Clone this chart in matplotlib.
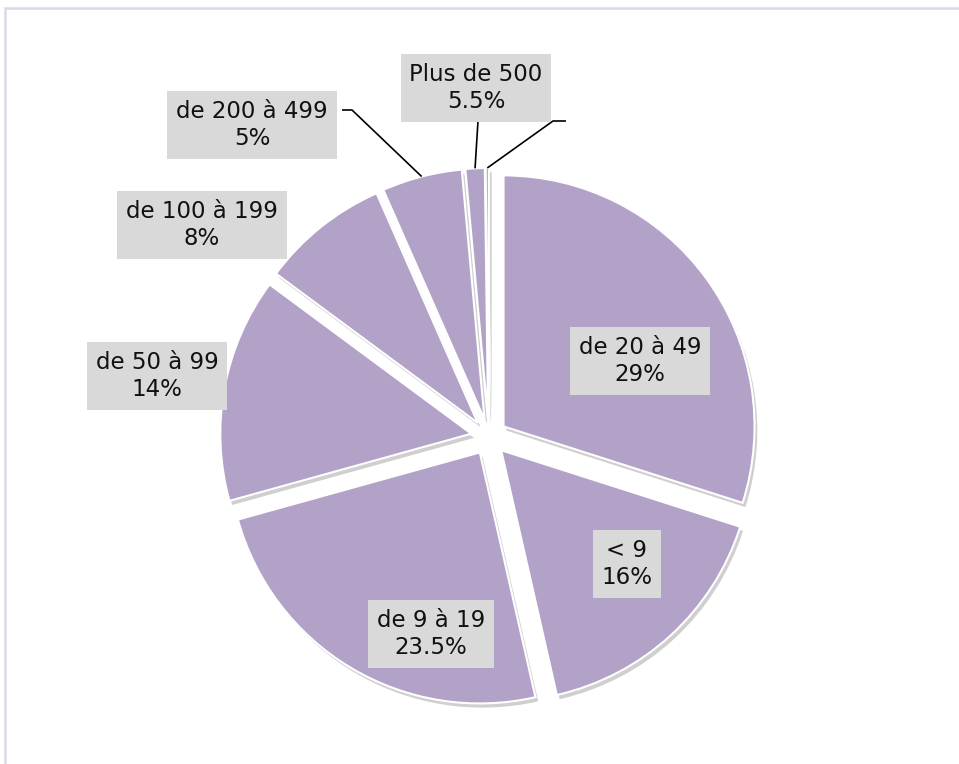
import matplotlib
matplotlib.use("Agg")
import matplotlib.pyplot as plt
import matplotlib.patheffects as pe
from matplotlib.patches import Rectangle
import numpy as np

# slices clockwise from 12 o'clock
categories = ["de 20 à 49", "< 9", "de 9 à 19", "de 50 à 99",
              "de 100 à 199", "de 200 à 499", "Plus de 500", ""]
values = [29, 16, 23.5, 14, 8, 5, 1.2, 0.2]
pct_labels = ["29%", "16%", "23.5%", "14%", "8%", "5%", "5.5%", ""]

W, H = 959, 764


def px(x, y):
    # pixel coords (y down) -> data coords (y up)
    return x, H - y


def main():
    fig = plt.figure(figsize=(W / 100, H / 100), dpi=100)
    ax = fig.add_axes([0, 0, 1, 1])

    # explode is in data units here (pixels)
    wedges, _ = ax.pie(values, startangle=90, counterclock=False,
                       radius=251, center=px(489, 437),
                       explode=[18] * len(values),
                       colors=["#b3a2c8"] * len(values),
                       wedgeprops=dict(edgecolor="white", linewidth=1.5))
    for w in wedges:
        w.set_path_effects([pe.SimplePatchShadow(offset=(2, -3), shadow_rgbFace="#777777", alpha=0.35),
                            pe.Normal()])

    ax.set_xlim(0, W)
    ax.set_ylim(0, H)
    ax.set_aspect("equal")
    ax.set_axis_off()

    # label boxes
    label_pos = [(640, 361), (627, 564), (431, 634), (157, 376),
                 (202, 225), (252, 125), (476, 88)]
    for name, pct, pos in zip(categories, pct_labels, label_pos):
        ax.text(*px(*pos), name + "\n" + pct, ha="center", va="center",
                fontsize=16.5, color="#111111", linespacing=1.2,
                bbox=dict(boxstyle="square,pad=0.38", facecolor="#d9d9d9", edgecolor="none"))

    # leader lines for the small slices
    def arc_mid(w):
        t = np.deg2rad((w.theta1 + w.theta2) / 2)
        return w.center[0] + w.r * np.cos(t), w.center[1] + w.r * np.sin(t)

    leaders = {5: [px(352, 110), px(342, 110)],
               6: [px(478, 121)],
               7: [px(553, 121), px(566, 121)]}
    for i, pts in leaders.items():
        xs, ys = zip(arc_mid(wedges[i]), *pts)
        ax.plot(xs, ys, color="black", lw=1.2, solid_capstyle="butt")

    # chart area frame (only top and left edges visible)
    ax.add_patch(Rectangle(px(5, 800), 1000, 792, fill=False,
                           edgecolor="#ddd8e8", lw=1.8))

    fig.savefig("out.png", dpi=100)


if __name__ == "__main__":
    main()
